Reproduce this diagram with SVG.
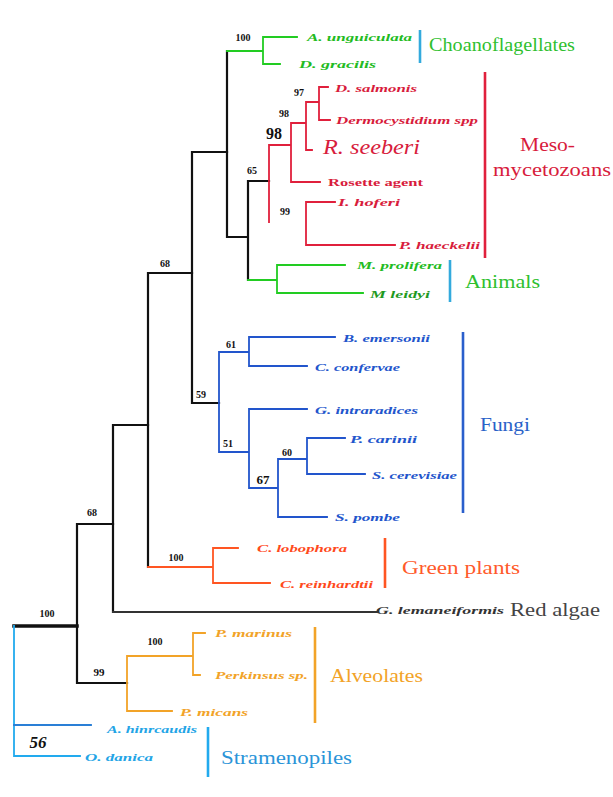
<svg xmlns="http://www.w3.org/2000/svg" width="613" height="797" viewBox="0 0 613 797">
<style>
.e{fill:none;stroke-linecap:square}
.k{stroke:#111;stroke-width:2.2}
.g{stroke:#22cc22;stroke-width:1.8}
.r{stroke:#e0203c;stroke-width:1.8}
.b{stroke:#2255cc;stroke-width:1.8}
.p{stroke:#ff5522;stroke-width:1.8}
.o{stroke:#f2a328;stroke-width:1.8}
.c{stroke:#22aaee;stroke-width:1.8}
.bar{fill:none;stroke-width:2.6}
.sp{font-family:'Liberation Serif','Times New Roman',serif;font-style:italic;font-weight:bold;font-size:10.5px}
.bs{font-family:'Liberation Serif','Times New Roman',serif;font-weight:bold;font-size:10px;fill:#111;text-anchor:middle}
.gl{font-family:'Liberation Serif','Times New Roman',serif;font-size:18px}
</style>
<rect width="613" height="797" fill="#ffffff"/>
<g id="connectors">
  <path class="e k" d="M14,626 H77" style="stroke-width:3.5"/>
  <path class="e k" d="M77,524 V683 M77,524 H113 M77,683 H127"/>
  <path class="e k" d="M113,425 V612 M113,425 H148"/>
  <path class="e" stroke="#333" stroke-width="2" d="M113,612 H378"/>
  <path class="e k" d="M148,273 V567 M148,273 H192"/>
  <path class="e k" d="M192,152 V403 M192,152 H227 M192,403 H219"/>
  <path class="e k" d="M227,51 V237 M227,237 H248 M248,181 V280 M248,181 H269"/>
  <path class="e g" d="M227,51 H263 M263,37 V64 M263,37 H297 M263,64 H280"/>
  <path class="e g" d="M248,280 H277 M277,265 V293 M277,265 H345 M277,293 H363"/>
  <path class="e r" d="M269,145 V222 M269,145 H291 M291,123 V182 M291,123 H306 M291,182 H320 M306,102 V150 M306,102 H319 M306,150 H312 M319,87 V120 M319,87 H328 M319,120 H330 M306,202 V245 M306,202 H335 M306,245 H395"/>
  <path class="e b" d="M219,352 V452 M219,352 H249 M219,452 H249 M249,337 V366 M249,337 H335 M249,366 H307 M249,409 V488 M249,409 H307 M249,488 H278 M278,459 V517 M278,459 H307 M278,517 H327 M307,438 V474 M307,438 H345 M307,474 H365"/>
  <path class="e p" d="M148,567 H213 M213,548 V583 M213,548 H238 M213,583 H270"/>
  <path class="e o" d="M127,656 V711 M127,656 H193 M193,633 V675 M193,633 H205 M193,675 H200 M127,711 H172"/>
  <path class="e c" d="M14,626 V756 M14,756 H80"/>
  <path class="e" stroke="#2a7fd6" stroke-width="1.8" d="M14,725 H91"/>
</g>
<g id="bars">
  <path class="bar" stroke="#33aadd" d="M420,30 V63"/>
  <path class="bar" stroke="#e0203c" d="M485,72 V258"/>
  <path class="bar" stroke="#33aadd" d="M450,260 V302"/>
  <path class="bar" stroke="#2a5fcc" d="M463,332 V513"/>
  <path class="bar" stroke="#ff5522" d="M385,538 V588"/>
  <path class="bar" stroke="#f2a328" d="M315,627 V723"/>
  <path class="bar" stroke="#22aaee" d="M208,727 V777"/>
</g>
<g id="choanoflagellates">
  <text class="sp" fill="#22bb22" x="307" y="41" textLength="105" lengthAdjust="spacingAndGlyphs">A. unguiculata</text>
  <text class="sp" fill="#22bb22" x="299" y="68" textLength="77" lengthAdjust="spacingAndGlyphs">D. gracilis</text>
  <text class="gl" fill="#2fbf2f" x="429" y="51" textLength="146" lengthAdjust="spacingAndGlyphs">Choanoflagellates</text>
</g>
<g id="mesomycetozoans">
  <text class="sp" fill="#d81c3c" x="335" y="92" textLength="82" lengthAdjust="spacingAndGlyphs">D. salmonis</text>
  <text class="sp" fill="#d81c3c" x="336" y="124" textLength="142" lengthAdjust="spacingAndGlyphs">Dermocystidium spp</text>
  <text class="sp" fill="#d81c3c" style="font-size:21px;font-weight:normal" x="323" y="154" textLength="97" lengthAdjust="spacingAndGlyphs">R. seeberi</text>
  <text class="sp" fill="#d81c3c" style="font-style:normal" x="328" y="186" textLength="95" lengthAdjust="spacingAndGlyphs">Rosette agent</text>
  <text class="sp" fill="#d81c3c" x="338" y="206" textLength="62" lengthAdjust="spacingAndGlyphs">I. hoferi</text>
  <text class="sp" fill="#d81c3c" x="399" y="249" textLength="81" lengthAdjust="spacingAndGlyphs">P. haeckelii</text>
  <text class="gl" fill="#d81c3c" style="font-size:19px" x="520" y="151" textLength="55" lengthAdjust="spacingAndGlyphs">Meso-</text>
  <text class="gl" fill="#d81c3c" style="font-size:19px" x="493" y="176" textLength="118" lengthAdjust="spacingAndGlyphs">mycetozoans</text>
</g>
<g id="animals">
  <text class="sp" fill="#22bb22" x="357" y="269" textLength="85" lengthAdjust="spacingAndGlyphs">M. prolifera</text>
  <text class="sp" fill="#1f9a1f" x="370" y="298" textLength="60" lengthAdjust="spacingAndGlyphs">M leidyi</text>
  <text class="gl" fill="#2fbf2f" x="465" y="288" textLength="75" lengthAdjust="spacingAndGlyphs">Animals</text>
</g>
<g id="fungi">
  <text class="sp" fill="#2255cc" x="343" y="342" textLength="87" lengthAdjust="spacingAndGlyphs">B. emersonii</text>
  <text class="sp" fill="#2255cc" x="315" y="371" textLength="85" lengthAdjust="spacingAndGlyphs">C. confervae</text>
  <text class="sp" fill="#2255cc" x="315" y="414" textLength="103" lengthAdjust="spacingAndGlyphs">G. intraradices</text>
  <text class="sp" fill="#2255cc" x="350" y="443" textLength="67" lengthAdjust="spacingAndGlyphs">P. carinii</text>
  <text class="sp" fill="#2255cc" x="372" y="479" textLength="85" lengthAdjust="spacingAndGlyphs">S. cerevisiae</text>
  <text class="sp" fill="#2255cc" x="335" y="521" textLength="65" lengthAdjust="spacingAndGlyphs">S. pombe</text>
  <text class="gl" fill="#2a62c8" style="font-size:19px" x="480" y="431" textLength="50" lengthAdjust="spacingAndGlyphs">Fungi</text>
</g>
<g id="green-plants">
  <text class="sp" fill="#ff4a1c" x="257" y="552" textLength="90" lengthAdjust="spacingAndGlyphs">C. lobophora</text>
  <text class="sp" fill="#ff4a1c" x="280" y="588" textLength="93" lengthAdjust="spacingAndGlyphs">C. reinhardtii</text>
  <text class="gl" fill="#ff5a2a" x="402" y="574" textLength="118" lengthAdjust="spacingAndGlyphs">Green plants</text>
</g>
<g id="red-algae">
  <text class="sp" fill="#333" x="376" y="614" textLength="128" lengthAdjust="spacingAndGlyphs">G. lemaneiformis</text>
  <text class="gl" fill="#444" x="510" y="616" textLength="90" lengthAdjust="spacingAndGlyphs">Red algae</text>
</g>
<g id="alveolates">
  <text class="sp" fill="#f2a328" x="215" y="637" textLength="77" lengthAdjust="spacingAndGlyphs">P. marinus</text>
  <text class="sp" fill="#f2a328" x="215" y="679" textLength="93" lengthAdjust="spacingAndGlyphs">Perkinsus sp.</text>
  <text class="sp" fill="#f2a328" x="180" y="716" textLength="68" lengthAdjust="spacingAndGlyphs">P. micans</text>
  <text class="gl" fill="#f2a328" x="330" y="682" textLength="93" lengthAdjust="spacingAndGlyphs">Alveolates</text>
</g>
<g id="stramenopiles">
  <text class="sp" fill="#22a4e6" x="107" y="733" textLength="90" lengthAdjust="spacingAndGlyphs">A. hinrcaudis</text>
  <text class="sp" fill="#22a4e6" x="85" y="761" textLength="68" lengthAdjust="spacingAndGlyphs">O. danica</text>
  <text class="gl" fill="#2a94d8" x="221" y="764" textLength="131" lengthAdjust="spacingAndGlyphs">Stramenopiles</text>
</g>
<g id="bootstrap">
  <text class="bs" x="243" y="41">100</text>
  <text class="bs" x="299" y="96">97</text>
  <text class="bs" x="284" y="117">98</text>
  <text class="bs" style="font-size:16px" x="274" y="139">98</text>
  <text class="bs" x="252" y="174">65</text>
  <text class="bs" x="285" y="215">99</text>
  <text class="bs" x="165" y="267">68</text>
  <text class="bs" x="231" y="348">61</text>
  <text class="bs" x="201" y="398">59</text>
  <text class="bs" x="228" y="447">51</text>
  <text class="bs" x="287" y="456">60</text>
  <text class="bs" style="font-size:13px" x="263" y="484">67</text>
  <text class="bs" x="176" y="561">100</text>
  <text class="bs" x="92" y="516">68</text>
  <text class="bs" x="47" y="617">100</text>
  <text class="bs" x="155" y="645">100</text>
  <text class="bs" style="font-size:11px" x="99" y="676">99</text>
  <text class="bs" style="font-size:17px;font-style:italic" x="38" y="748">56</text>
</g>
</svg>
